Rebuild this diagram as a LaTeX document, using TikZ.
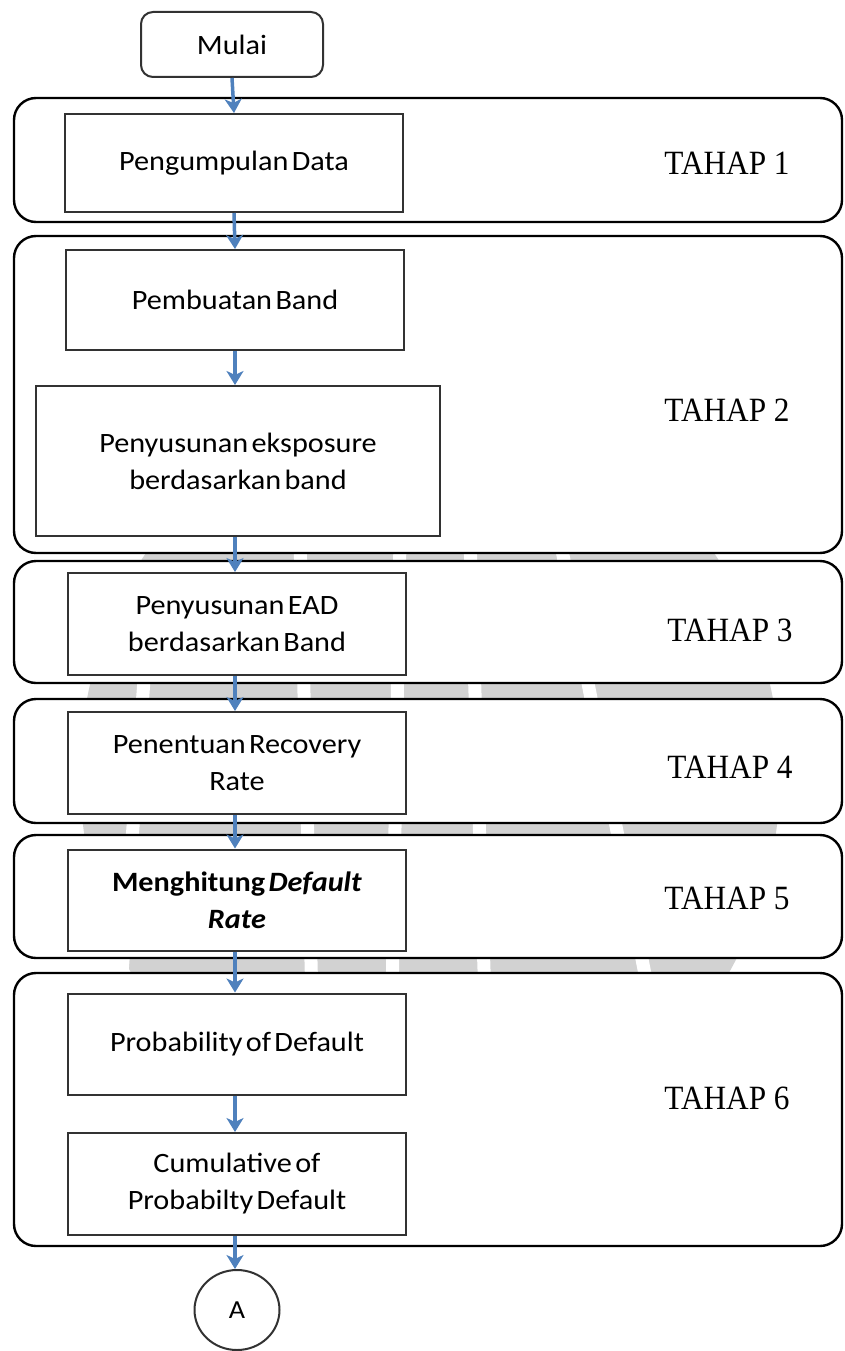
\documentclass[tikz,border=0pt]{standalone}
\usepackage{fontspec}
\newfontfamily\boxfont[FakeStretch=1.08,WordSpace=0.5]{Carlito}
\newfontfamily\tahapfont[FakeStretch=0.92]{Liberation Serif}
\usetikzlibrary{arrows.meta,shapes.geometric}
\definecolor{arrblue}{RGB}{79,129,189}
\definecolor{wmgray}{RGB}{210,210,210}
\definecolor{boxline}{RGB}{50,50,50}
\tikzset{
  grp/.style={draw=black, line width=2.4pt, fill=white, rounded corners=22pt, minimum width=828pt, inner sep=0pt},
  stepbox/.style={draw=boxline, line width=2pt, fill=white, minimum width=338pt, minimum height=100pt, align=center, inner sep=0pt, font=\boxfont\fontsize{28}{37}\selectfont},
  tahap/.style={font=\tahapfont\fontsize{34}{38}\selectfont, inner sep=0pt},
  arr/.style={draw=arrblue, line width=3.5pt, -{Stealth[width=17pt,length=14pt,inset=4pt]}},
  wmbreak/.style={draw=white, line width=13pt},
}
\begin{document}
\begin{tikzpicture}[x=1pt,y=-1pt]
\useasboundingbox (0,0) rectangle (844,1351);
% watermark (background)
\fill[wmgray] (430,775) ellipse [x radius=350, y radius=380];
\draw[wmbreak] (300,540) -- (312,1000);
\draw[wmbreak] (400,540) -- (392,1000);
\draw[wmbreak] (470,540) -- (485,1000);
\draw[wmbreak] (560,540) -- (650,1000);
\draw[wmbreak] (150,600) -- (120,1000);
% groups
\node[grp, minimum height=124pt] (g1) at (428,160) {};
\node[grp, minimum height=317pt] (g2) at (428,394.5) {};
\node[grp, minimum height=122pt] (g3) at (428,622) {};
\node[grp, minimum height=124pt] (g4) at (428,761) {};
\node[grp, minimum height=123pt] (g5) at (428,896.5) {};
\node[grp, minimum height=273pt] (g6) at (428,1109.5) {};
% start
\node[draw=boxline, line width=2pt, fill=white, rounded corners=12pt, minimum width=182pt, minimum height=65pt, inner sep=0pt, font=\boxfont\fontsize{28}{34}\selectfont] (start) at (232,44.5) {Mulai};
% steps
\node[stepbox, minimum height=98pt] (b1) at (234,163) {Pengumpulan Data};
\node[stepbox] (b2) at (235,300) {Pembuatan Band};
\node[stepbox, minimum width=404pt, minimum height=150pt] (b3) at (238,461) {Penyusunan eksposure\\berdasarkan band};
\node[stepbox, minimum height=102pt] (b4) at (237,624) {Penyusunan EAD\\berdasarkan Band};
\node[stepbox, minimum height=102pt] (b5) at (237,763) {Penentuan Recovery\\Rate};
\node[stepbox, minimum height=101pt] (b6) at (237,900) {\bfseries Menghitung \textit{Default}\\\bfseries\itshape Rate};
\node[stepbox, minimum height=101pt] (b7) at (237,1044) {Probability of Default};
\node[stepbox, minimum height=102pt] (b8) at (237,1184) {Cumulative of\\Probabilty Default};
\node[draw=boxline, line width=2pt, fill=white, ellipse, minimum width=85pt, minimum height=80pt, inner sep=0pt, font=\boxfont\fontsize{26}{30}\selectfont] (conn) at (237,1310) {A};
% stage labels
\node[tahap] (t1) at (727,163) {TAHAP 1};
\node[tahap] (t2) at (727,410) {TAHAP 2};
\node[tahap] (t3) at (730,630) {TAHAP 3};
\node[tahap] (t4) at (730,767) {TAHAP 4};
\node[tahap] (t5) at (727,898) {TAHAP 5};
\node[tahap] (t6) at (727,1098) {TAHAP 6};
% arrows
\draw[arr] (start.south) -- (b1.north);
\draw[arr] (b1.south) -- (b2.north);
\draw[arr] (b2.south) -- (b3.north -| b2.south);
\draw[arr] (b3.south -| b2.south) -- (b4.north -| b2.south);
\draw[arr] (b4.south -| b2.south) -- (b5.north -| b2.south);
\draw[arr] (b5.south -| b2.south) -- (b6.north -| b2.south);
\draw[arr] (b6.south -| b2.south) -- (b7.north -| b2.south);
\draw[arr] (b7.south -| b2.south) -- (b8.north -| b2.south);
\draw[arr] (b8.south -| b2.south) -- (conn.north -| b2.south);
\end{tikzpicture}
\end{document}
